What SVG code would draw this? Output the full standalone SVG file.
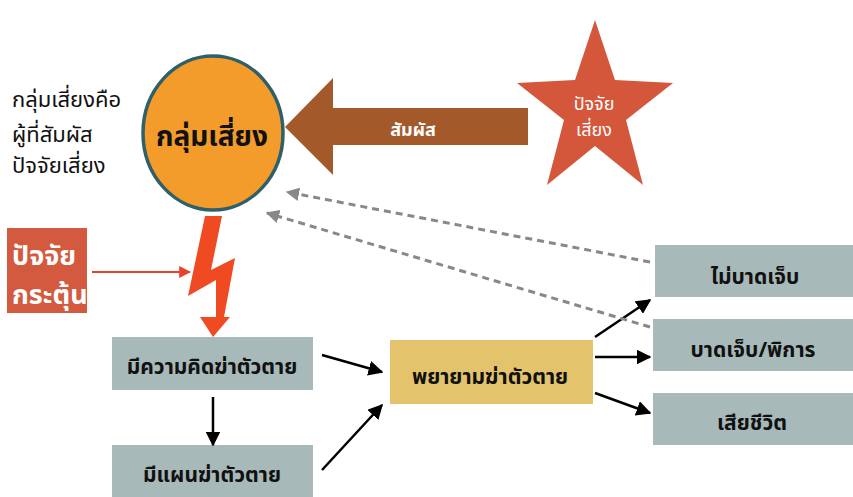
<svg xmlns="http://www.w3.org/2000/svg" width="853" height="497" viewBox="0 0 853 497">
<style>
text{font-family:"Noto Sans Thai","Noto Sans","DejaVu Sans",sans-serif;}
.node{font-weight:bold;font-size:21px;fill:#111;text-anchor:middle;}
.box{fill:#a7b9b9;}
.blk{stroke:#000;stroke-width:2.5;fill:none;}
.dash{stroke:#888;stroke-width:3;stroke-dasharray:7,5;fill:none;}
.wt{fill:#fff;text-anchor:middle;}
</style>
<defs>
<marker id="ab" viewBox="0 0 10 10" refX="9" refY="5" markerWidth="6" markerHeight="6" orient="auto" markerUnits="strokeWidth"><path d="M0,0L10,5L0,10z" fill="#000"/></marker>
<marker id="ag" viewBox="0 0 10 10" refX="9" refY="5" markerWidth="4.5" markerHeight="4.5" orient="auto" markerUnits="strokeWidth"><path d="M0,0L10,5L0,10z" fill="#888"/></marker>
<marker id="ar" viewBox="0 0 10 10" refX="9" refY="5" markerWidth="6" markerHeight="6" orient="auto" markerUnits="strokeWidth"><path d="M0,0L10,5L0,10z" fill="#e8432a"/></marker>
</defs>
<rect width="853" height="497" fill="#fff"/>

<g id="definition">
<text x="12" y="107" font-size="22" fill="#111">กลุ่มเสี่ยงคือ</text>
<text x="12" y="142" font-size="22" fill="#111">ผู้ที่สัมผัส</text>
<text x="12" y="173" font-size="22" fill="#111">ปัจจัยเสี่ยง</text>
</g>

<g id="risk-group">
<ellipse cx="213" cy="133" rx="70" ry="77" fill="#f39c2b" stroke="#2f5f68" stroke-width="3.5"/>
<text x="212" y="146" font-size="28" font-weight="bold" fill="#111" text-anchor="middle">กลุ่มเสี่ยง</text>
</g>

<g id="exposure-arrow">
<path d="M285,127 L333,78 L333,108 L528,108 L528,145 L333,145 L333,175 Z" fill="#a4592a"/>
<text class="wt" x="413" y="136" font-size="18" font-weight="bold">สัมผัส</text>
</g>

<g id="risk-factor">
<polygon points="595,20 615,80 673,83 626,120 643,185 595,146 547,185 564,120 517,83 575,80" fill="#d4573c"/>
<text class="wt" x="594" y="110" font-size="18">ปัจจัย</text>
<text class="wt" x="594" y="136" font-size="18">เสี่ยง</text>
</g>

<g id="trigger">
<rect x="7" y="228" width="80" height="85" fill="#d35a3f"/>
<text x="12" y="265" font-size="27" font-weight="bold" fill="#fff">ปัจจัย</text>
<text x="12" y="304" font-size="27" font-weight="bold" fill="#fff">กระตุ้น</text>
</g>

<g id="lightning">
<polygon points="205,216 222,216 211,270 235,258 224,317 230,317 213,337 200,317 216,317 216,280 188,296" fill="#f04a23"/>
</g>

<g id="ideation">
<rect class="box" x="112" y="337" width="201" height="53"/>
<text class="node" x="212" y="374">มีความคิดฆ่าตัวตาย</text>
</g>

<g id="plan">
<rect class="box" x="112" y="445" width="201" height="55"/>
<text class="node" x="212" y="482">มีแผนฆ่าตัวตาย</text>
</g>

<g id="attempt">
<rect x="390" y="340" width="203" height="64" fill="#e3c46c"/>
<text class="node" x="490" y="384">พยายามฆ่าตัวตาย</text>
</g>

<g id="no-injury">
<rect class="box" x="655" y="245" width="198" height="52"/>
<text class="node" x="755" y="284">ไม่บาดเจ็บ</text>
</g>

<g id="injury">
<rect class="box" x="653" y="319" width="200" height="52"/>
<text class="node" x="753" y="357">บาดเจ็บ/พิการ</text>
</g>

<g id="death">
<rect class="box" x="653" y="393" width="200" height="52"/>
<text class="node" x="752" y="430">เสียชีวิต</text>
</g>

<g id="connectors">
<line x1="92" y1="272" x2="190" y2="272" stroke="#e8432a" stroke-width="2" marker-end="url(#ar)"/>
<line class="blk" x1="322" y1="355" x2="382" y2="372" marker-end="url(#ab)"/>
<line class="blk" x1="213" y1="397" x2="213" y2="445" marker-end="url(#ab)"/>
<line class="blk" x1="322" y1="470" x2="382" y2="405" marker-end="url(#ab)"/>
<line class="blk" x1="595" y1="337" x2="650" y2="300" marker-end="url(#ab)"/>
<line class="blk" x1="595" y1="357" x2="650" y2="357" marker-end="url(#ab)"/>
<line class="blk" x1="595" y1="393" x2="650" y2="413" marker-end="url(#ab)"/>
<line class="dash" x1="650" y1="262" x2="287" y2="192" marker-end="url(#ag)"/>
<line class="dash" x1="650" y1="327" x2="267" y2="213" marker-end="url(#ag)"/>
</g>
</svg>
